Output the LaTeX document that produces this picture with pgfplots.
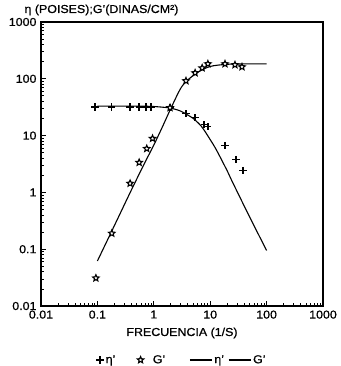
\documentclass[border=0pt]{standalone}
\usepackage{fontspec}
\setmainfont{Liberation Sans}[FakeStretch=1.08, FakeBold=0.8]
\usepackage{pgfplots}
\pgfplotsset{compat=1.18}
\usetikzlibrary{plotmarks}

% five-pointed star mark for G'
\pgfdeclareplotmark{pstar}{%
  \pgfpathmoveto{\pgfpointpolar{90}{\pgfplotmarksize}}%
  \pgfpathlineto{\pgfpointpolar{126}{0.45\pgfplotmarksize}}%
  \pgfpathlineto{\pgfpointpolar{162}{\pgfplotmarksize}}%
  \pgfpathlineto{\pgfpointpolar{198}{0.45\pgfplotmarksize}}%
  \pgfpathlineto{\pgfpointpolar{234}{\pgfplotmarksize}}%
  \pgfpathlineto{\pgfpointpolar{270}{0.45\pgfplotmarksize}}%
  \pgfpathlineto{\pgfpointpolar{306}{\pgfplotmarksize}}%
  \pgfpathlineto{\pgfpointpolar{342}{0.45\pgfplotmarksize}}%
  \pgfpathlineto{\pgfpointpolar{18}{\pgfplotmarksize}}%
  \pgfpathlineto{\pgfpointpolar{54}{0.45\pgfplotmarksize}}%
  \pgfpathclose
  \pgfusepathqfillstroke
}

% legend image for the model curves: a plain line
\pgfplotsset{lineleg/.style={legend image code/.code={%
  \draw[##1] (0pt,0pt) -- (22pt,0pt);}}}

\newcommand\lbl{\fontsize{11.5}{13}\selectfont}

\begin{document}
\begin{tikzpicture}[x=1pt,y=1pt]
\path[use as bounding box] (0,0) rectangle (340,366);

\node[anchor=west, font=\lbl] at (21,356)
  {η (POISES);G'(DINAS/CM²)};

\begin{axis}[
  at={(41pt,60pt)}, anchor=south west,
  scale only axis, width=282pt, height=284pt,
  xmode=log, ymode=log,
  xmin=0.01, xmax=1000, ymin=0.01, ymax=1000,
  xtick={0.01,0.1,1,10,100,1000},
  xticklabels={0.01,0.1,1,10,100,1000},
  ytick={0.01,0.1,1,10,100,1000},
  yticklabels={0.01,0.1,1,10,100,1000},
  minor xtick={0.02,0.03,0.04,0.05,0.06,0.07,0.08,0.09,
               0.2,0.3,0.4,0.5,0.6,0.7,0.8,0.9,
               2,3,4,5,6,7,8,9,20,30,40,50,60,70,80,90,
               200,300,400,500,600,700,800,900},
  minor ytick={0.02,0.03,0.04,0.05,0.06,0.07,0.08,0.09,
               0.2,0.3,0.4,0.5,0.6,0.7,0.8,0.9,
               2,3,4,5,6,7,8,9,20,30,40,50,60,70,80,90,
               200,300,400,500,600,700,800,900},
  xtick pos=bottom, ytick pos=left, tick align=inside,
  major tick length=5pt, minor tick length=3.5pt,
  every tick/.style={black, line width=0.8pt},
  axis line style={line width=1.2pt},
  tick label style={font=\lbl},
  xticklabel style={yshift=-1pt},
  yticklabel style={xshift=-1pt},
  /pgf/number format/assume math mode=true,
  xlabel={FRECUENCIA (1/S)},
  xlabel style={at={(axis description cs:0.5,-0.095)}, anchor=center,
                font=\lbl},
  legend columns=4,
  legend style={draw=none, fill=none, at={(0.5,-0.19)}, anchor=center,
                font=\lbl,
                /tikz/column 2/.style={column sep=20pt},
                /tikz/column 4/.style={column sep=22pt},
                /tikz/column 6/.style={column sep=2pt}},
]

% eta' measured
\addplot[only marks, mark=+, mark size=3.6pt, line width=1.4pt, black]
  coordinates {
    (0.091,32) (0.18,32) (0.38,32) (0.55,32) (0.73,32) (0.89,32)
    (1.94,31) (3.72,24.3) (5.4,20.7) (7.8,15.6) (9.1,14.4)
    (18.3,6.7) (28.6,3.8) (38.2,2.43)
  };
\addlegendentry{η'}

% G' measured
\addplot[only marks, mark=pstar, mark size=3.4pt,
         mark options={fill=white, draw=black, line width=1.1pt}]
  coordinates {
    (0.094,0.031) (0.18,0.19) (0.38,1.44) (0.55,3.36) (0.75,5.9)
    (0.95,8.9) (1.94,31) (3.72,92) (5.4,127) (7.2,155) (9.1,183)
    (18.3,183) (27.5,176) (36.6,162)
  };
\addlegendentry{\hspace{7pt}G'}

% eta' model curve
\addplot[black, line width=1.1pt, smooth, no marks, lineleg]
  coordinates {
    (0.1,33) (0.3,33) (0.6,33) (1.0,32.5) (1.5,31.5) (2.0,30.5)
    (3.0,27) (4.0,23) (5.0,20) (7.0,14.5) (10,8.5) (13,5.5)
    (20,2.4) (25,1.5) (50,0.37) (100,0.095)
  };
\addlegendentry{η'}

% G' model curve
\addplot[black, line width=1.1pt, smooth, no marks, lineleg]
  coordinates {
    (0.1,0.062) (0.2,0.26) (0.4,1.1) (0.7,3.4) (1.0,6.8) (1.5,16)
    (2.0,30) (3.0,68) (4.0,95) (6.0,130) (10,165) (20,180)
    (50,183) (100,183)
  };
\addlegendentry{G'}

\end{axis}
\end{tikzpicture}
\end{document}
